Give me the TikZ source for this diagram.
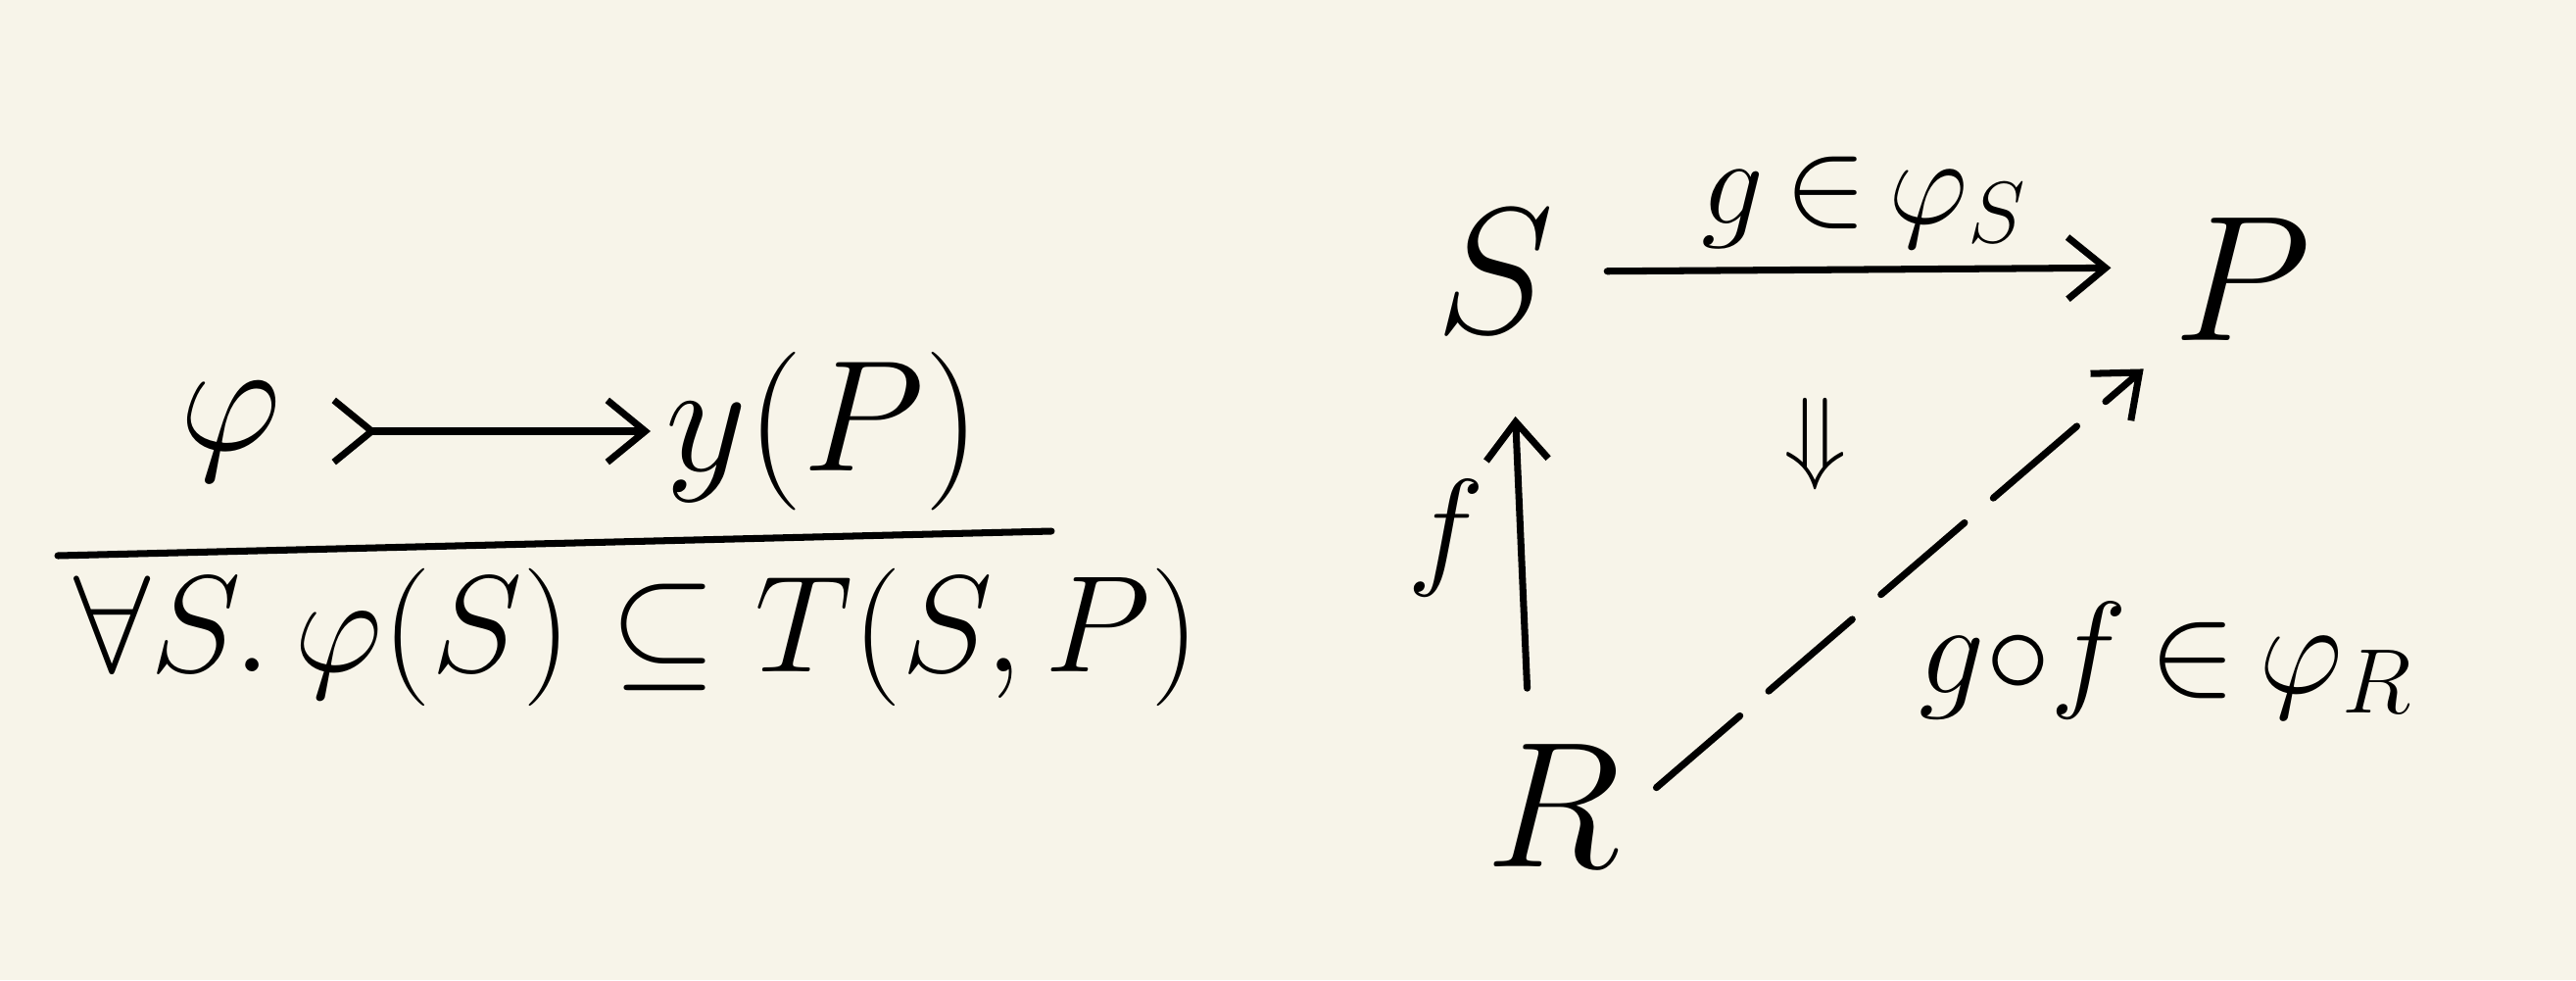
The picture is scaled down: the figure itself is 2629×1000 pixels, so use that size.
\RequirePackage{fix-cm}
\documentclass[tikz,border=0pt]{standalone}
\usetikzlibrary{arrows.meta}
\definecolor{paper}{RGB}{247,244,233}
\newcommand{\handsize}{\fontsize{46}{52}\selectfont}
\newcommand{\objsize}{\fontsize{52}{58}\selectfont}
\newcommand{\lblsize}{\fontsize{38}{44}\selectfont}

\begin{document}
\begin{tikzpicture}[x=0.1mm,y=-0.1mm,line width=2pt,line cap=round,
  >={Straight Barb[length=11pt,width=18pt]},font=\handsize]
			\useasboundingbox [fill=paper] (0,0) rectangle (2629,1000);
			% the rule on the left
			\node (phi) at (235,440) {$\varphi$};
			\node (yP) at (840,440) {$y(P)$};
			\draw [>->,shorten <=10pt] (phi) -- (yP);
			\coordinate (ruleL) at (59,567);
			\coordinate (ruleR) at (1073,542);
			\draw (ruleL) -- (ruleR);
			\node (all) at (650,650) [font=\fontsize{40}{46}\selectfont] {$\forall S.\,\varphi(S)\subseteq T(S,P)$};
			% the triangle on the right
			\node (S) at (1526,277) [font=\objsize] {$S$};
			\node (P) at (2289,285) [font=\objsize] {$P$};
			\node (R) at (1585,822) [font=\objsize] {$R$};
			\draw [->,shorten <=11pt,shorten >=14pt] (S.east) -- (P.172) node [pos=.5,above=2pt,font=\fontsize{36}{42}\selectfont] {$g\,{\in}\,\varphi_S$};
			\draw [->,shorten <=12pt,shorten >=20pt] ([xshift=-7pt]R.north) -- ([xshift=5pt]S.south) node [pos=.5,left=6pt,font=\lblsize] {$f$};
			\draw [->,dash pattern=on 32pt off 11pt,shorten <=8pt,shorten >=6pt] (R.east) -- (P.south west) node [pos=.5,below right=2pt,font=\lblsize] {$g{\circ}f\,{\in}\,\varphi_R$};
			\node (cell) at (1853,453) [font=\fontsize{30}{34}\selectfont] {$\Downarrow$};
			\end{tikzpicture}
\end{document}
